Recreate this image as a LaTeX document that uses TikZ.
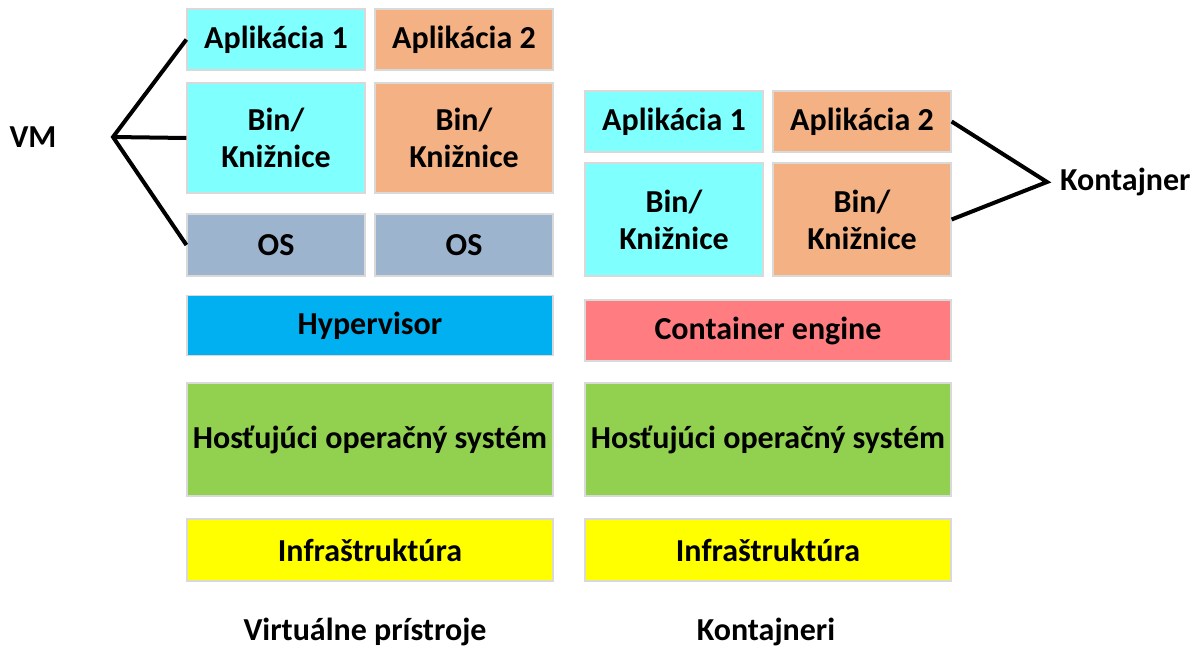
\documentclass[tikz,border=0pt]{standalone}
\usepackage{fontspec}
\setmainfont{Carlito}
\usetikzlibrary{positioning, calc}

\definecolor{appcyan}{HTML}{80FFFF}
\definecolor{apporange}{HTML}{F4B183}
\definecolor{osgray}{HTML}{9DB4CE}
\definecolor{hypblue}{HTML}{00B0F0}
\definecolor{engred}{HTML}{FF7C80}
\definecolor{hostgreen}{HTML}{92D050}
\definecolor{infrayellow}{HTML}{FFFF00}
\definecolor{edgegray}{HTML}{D9D9D9}

\begin{document}
\begin{tikzpicture}[x=0.5pt, y=-0.5pt,
    layer/.style={draw=edgegray, line width=0.6pt, fill=#1, inner sep=0pt, align=center,
        font=\bfseries\fontsize{16}{18.6}\selectfont},
    small/.style={minimum width=89pt},
    wide/.style={minimum width=183pt},
    caption/.style={font=\bfseries\fontsize{16}{18.6}\selectfont},
    bracket/.style={line width=2pt}]
\useasboundingbox (0,0) rectangle (1195,648);

% virtualne pristroje
\node[layer=appcyan, small, minimum height=30.5pt] (vapp1) at (276,39.5) {Aplikácia 1};
\node[layer=apporange, small, minimum height=30.5pt] (vapp2) at (464,39.5) {Aplikácia 2};
\node[layer=appcyan, small, minimum height=55pt] (vbin1) at (276,138) {Bin/\\Knižnice};
\node[layer=apporange, small, minimum height=55pt] (vbin2) at (464,138) {Bin/\\Knižnice};
\node[layer=osgray, small, minimum height=31pt] (vos1) at (276,245) {OS};
\node[layer=osgray, small, minimum height=31pt] (vos2) at (464,245) {OS};
\node[layer=hypblue, wide, minimum height=30pt] (vhyp) at (370,325.5) {Hypervisor};

% kontajneri
\node[layer=appcyan, small, minimum height=30.5pt] (capp1) at (674,121.5) {Aplikácia 1};
\node[layer=apporange, small, minimum height=30.5pt] (capp2) at (862,121.5) {Aplikácia 2};
\node[layer=appcyan, small, minimum height=56.5pt] (cbin1) at (674,219.5) {Bin/\\Knižnice};
\node[layer=apporange, small, minimum height=56.5pt] (cbin2) at (862,219.5) {Bin/\\Knižnice};
\node[layer=engred, wide, minimum height=30.5pt] (ceng) at (768,330.5) {Container engine};

% spolocne vrstvy
\foreach \side/\x in {v/370, c/768} {
    \node[layer=hostgreen, wide, minimum height=56.5pt] (\side host) at (\x,439.5) {Hosťujúci operačný systém};
    \node[layer=infrayellow, wide, minimum height=31pt] (\side infra) at (\x,550) {Infraštruktúra};
}

\node[caption] (vlabel) at (365,632) {Virtuálne prístroje};
\node[caption] (clabel) at (766,632) {Kontajneri};

% zatvorky
\node[caption] (vm) at (33,137) {VM};
\coordinate (vmfork) at (113,137);
\draw[bracket] (vapp1.west) -- (vmfork) -- (vos1.west);
\draw[bracket] (vmfork) -- (vbin1.west);

\coordinate (kfork) at (1047,182);
\node[caption, anchor=west] (kont) at (1053,182) {Kontajner};
\draw[bracket] (capp2.east) -- (kfork) -- (cbin2.east);
\end{tikzpicture}
\end{document}
